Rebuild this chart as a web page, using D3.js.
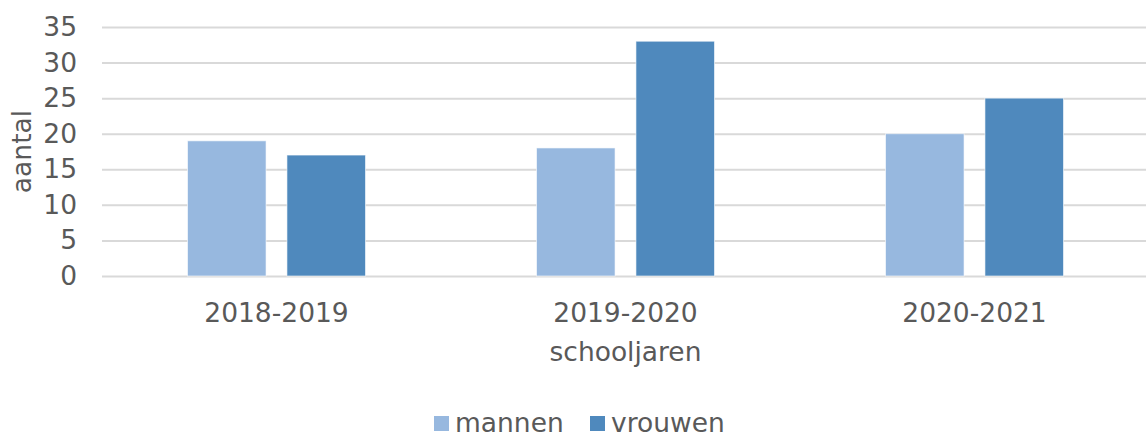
<!DOCTYPE html>
<html>
<head>
<meta charset="utf-8">
<script src="https://cdn.jsdelivr.net/npm/d3@7"></script>
<style>
  body { margin: 0; background: #fff; }
  text { font-family: "DejaVu Sans", Verdana, sans-serif; fill: #595959; }
</style>
</head>
<body>
<div id="chart"></div>
<script>
let categories = ["2018-2019", "2019-2020", "2020-2021"];
let seriesNames = ["mannen", "vrouwen"];
let mannen = [19, 18, 20];
let vrouwen = [17, 33, 25];
let yTicks = [0, 5, 10, 15, 20, 25, 30, 35];

let colors = { mannen: "#97b8df", vrouwen: "#4f89bd" };

let width = 1146;
let height = 437;
let margin = { top: 27, right: -3, bottom: 161, left: 102 };
let fontSize = 26.5;

const svg = d3
  .select("#chart")
  .append("svg")
  .attr("width", width)
  .attr("height", height);

const xScale = d3
  .scaleBand()
  .domain(categories)
  .range([margin.left, width - margin.right])
  .padding(0);

const groupWidth = 178;
const xInner = d3
  .scaleBand()
  .domain(seriesNames)
  .range([0, groupWidth])
  .paddingInner(0.21);

const yScale = d3
  .scaleLinear()
  .domain([0, 35])
  .range([height - margin.bottom, margin.top]);

// gridlines
const yGrid = d3
  .axisLeft(yScale)
  .tickValues(yTicks)
  .tickSize(-(width - margin.left))
  .tickFormat("");

svg
  .append("g")
  .attr("transform", `translate(${margin.left},0)`)
  .call(yGrid)
  .call((g) => g.select(".domain").remove())
  .call((g) => g.selectAll("line").attr("stroke", "#d9d9d9").attr("stroke-width", 2));

// y tick labels
const yAxis = d3.axisLeft(yScale).tickValues(yTicks).tickSize(0).tickPadding(0);
svg
  .append("g")
  .attr("transform", `translate(77,0)`)
  .call(yAxis)
  .call((g) => g.select(".domain").remove())
  .call((g) =>
    g.selectAll("text")
      .attr("font-size", fontSize)
      .attr("font-family", null)
      .attr("fill", null)
  );

// bars
const data = categories.map((c, i) => ({ cat: c, mannen: mannen[i], vrouwen: vrouwen[i] }));

const groups = svg
  .selectAll(".group")
  .data(data)
  .enter()
  .append("g")
  .attr("class", "group")
  .attr(
    "transform",
    (d) => `translate(${xScale(d.cat) + xScale.bandwidth() / 2 - groupWidth / 2},0)`
  );

groups
  .selectAll("rect")
  .data((d) => seriesNames.map((s) => ({ key: s, value: d[s] })))
  .enter()
  .append("rect")
  .attr("x", (d) => xInner(d.key))
  .attr("y", (d) => yScale(d.value))
  .attr("width", xInner.bandwidth())
  .attr("height", (d) => yScale(0) - yScale(d.value))
  .attr("fill", (d) => colors[d.key])
  .attr("stroke", "#ffffff")
  .attr("stroke-opacity", 0.6)
  .attr("stroke-width", 1);

// x labels
const xAxis = d3.axisBottom(xScale).tickSize(0).tickPadding(0);
svg
  .append("g")
  .attr("transform", `translate(0,${yScale(0)})`)
  .call(xAxis)
  .call((g) => g.select(".domain").remove())
  .call((g) =>
    g.selectAll("text")
      .attr("font-size", fontSize)
      .attr("font-family", null)
      .attr("fill", null)
      .attr("dy", null)
      .attr("y", 46)
  );

// axis titles
svg
  .append("text")
  .attr("text-anchor", "middle")
  .attr("x", (margin.left + width - margin.right) / 2)
  .attr("y", 361)
  .attr("font-size", fontSize)
  .text("schooljaren");

svg
  .append("text")
  .attr("text-anchor", "middle")
  .attr("transform", `translate(31,${(yScale(0) + yScale(35)) / 2}) rotate(-90)`)
  .attr("font-size", fontSize)
  .text("aantal");

// legend
const legendX = [434, 590];
const legend = svg
  .selectAll(".legend")
  .data(seriesNames)
  .enter()
  .append("g")
  .attr("class", "legend")
  .attr("transform", (d, i) => `translate(${legendX[i]},416)`);

legend
  .append("rect")
  .attr("width", 15)
  .attr("height", 15)
  .attr("fill", (d) => colors[d]);

legend
  .append("text")
  .attr("x", 21)
  .attr("y", 16)
  .attr("font-size", fontSize)
  .text((d) => d);
</script>
</body>
</html>
